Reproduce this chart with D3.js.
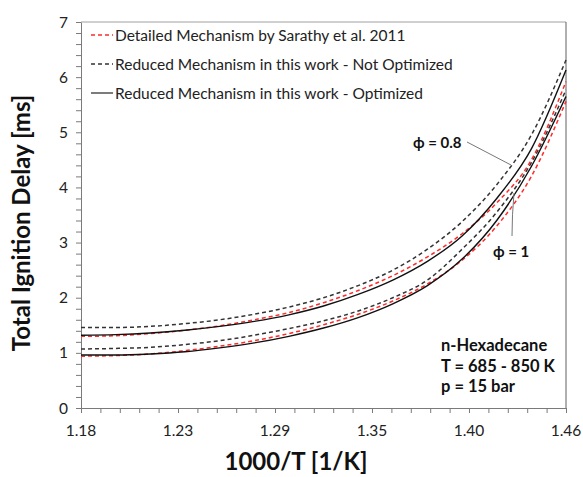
<!DOCTYPE html>
<html>
<head>
<meta charset="utf-8">
<script src="https://cdn.jsdelivr.net/npm/d3@7"></script>
<style>
  body { margin: 0; background: #fff; }
  text { font-family: Lato, "Open Sans", sans-serif; }
</style>
</head>
<body>
<div id="graph"></div>
<script>
// constants for graphing - change these up here
var width = 583,
    height = 477,
    plot_left = 81, plot_right = 566, plot_top = 22, plot_bottom = 408;

// 1000/T sample points
var inv_t = [1.18, 1.20, 1.22, 1.24, 1.26, 1.28, 1.30, 1.32, 1.34, 1.36, 1.38, 1.40, 1.42, 1.44, 1.46];

// phi = 0.8
var detailed_08     = [1.30, 1.31, 1.35, 1.41, 1.49, 1.60, 1.73, 1.91, 2.13, 2.40, 2.74, 3.16, 3.72, 4.50, 5.92];
var not_opt_08      = [1.46, 1.46, 1.48, 1.53, 1.60, 1.70, 1.83, 2.00, 2.22, 2.50, 2.88, 3.38, 4.05, 4.95, 6.31];
var optimized_08    = [1.32, 1.33, 1.36, 1.41, 1.48, 1.57, 1.69, 1.85, 2.06, 2.32, 2.66, 3.12, 3.80, 4.70, 6.13];
// phi = 1
var detailed_1      = [0.94, 0.95, 0.98, 1.04, 1.12, 1.22, 1.35, 1.51, 1.70, 1.94, 2.25, 2.68, 3.30, 4.20, 5.56];
var not_opt_1       = [1.07, 1.08, 1.10, 1.15, 1.22, 1.32, 1.44, 1.58, 1.76, 2.00, 2.32, 2.88, 3.55, 4.45, 5.77];
var optimized_1     = [0.96, 0.96, 0.98, 1.02, 1.09, 1.18, 1.30, 1.45, 1.64, 1.89, 2.22, 2.70, 3.40, 4.38, 5.65];

// axis ticks
var x_ticks = [1.18, 1.236, 1.292, 1.348, 1.404, 1.46];
var x_tick_labels = ["1.18", "1.23", "1.29", "1.35", "1.40", "1.46"];
var y_ticks = [0, 1, 2, 3, 4, 5, 6, 7];

var legend_labels = ["Detailed Mechanism by Sarathy et al. 2011",
                     "Reduced Mechanism in this work - Not Optimized",
                     "Reduced Mechanism in this work - Optimized"];
var info_lines = ["n-Hexadecane", "T = 685 - 850 K", "p = 15 bar"];

var x = d3.scaleLinear().domain([1.18, 1.46]).range([plot_left, plot_right]);
var y = d3.scaleLinear().domain([0, 7]).range([plot_bottom, plot_top]);

var svg = d3.select("#graph")
  .append("svg")
    .attr("width", width)
    .attr("height", height);

// border on top and right
svg.append("line").attr("x1", plot_left).attr("x2", plot_right).attr("y1", plot_top).attr("y2", plot_top)
    .attr("stroke", "#a0a0a0").attr("stroke-width", 1);
svg.append("line").attr("x1", plot_right).attr("x2", plot_right).attr("y1", plot_top).attr("y2", plot_bottom)
    .attr("stroke", "#606060").attr("stroke-width", 1);

// minor ticks (every 0.2 on y, every 1/5 of a major step on x)
var y_minor = d3.range(0, 36).map(function(i) { return i * 0.2; });
var x_minor = d3.range(0, 26).map(function(i) { return 1.18 + i * 0.0112; });

var xaxis = svg.append("g")
    .attr("transform", "translate(0," + plot_bottom + ")")
    .call(d3.axisBottom(x).tickValues(x_minor).tickSize(5).tickSizeOuter(0).tickFormat(""));
var yaxis = svg.append("g")
    .attr("transform", "translate(" + plot_left + ",0)")
    .call(d3.axisLeft(y).tickValues(y_minor).tickSize(5).tickSizeOuter(0).tickFormat(""));
[xaxis, yaxis].forEach(function(a) {
    a.selectAll("path, line").attr("stroke", "#7a7a7a");
});

// tick labels
svg.selectAll("text.xlab")
    .data(x_ticks)
    .enter()
    .append("text")
    .attr("class", "xlab")
    .attr("x", function(d) { return x(d); })
    .attr("y", 436)
    .attr("text-anchor", "middle")
    .attr("font-size", 15.5)
    .attr("fill", "#222")
    .text(function(d, i) { return x_tick_labels[i]; });

svg.selectAll("text.ylab")
    .data(y_ticks)
    .enter()
    .append("text")
    .attr("class", "ylab")
    .attr("x", 68)
    .attr("y", function(d) { return y(d) + 5.5; })
    .attr("text-anchor", "end")
    .attr("font-size", 15.5)
    .attr("fill", "#222")
    .text(function(d) { return d; });

// axis titles
svg.append("text")
    .attr("transform", "translate(30,223) rotate(-90)")
    .attr("text-anchor", "middle")
    .attr("font-size", 24)
    .attr("font-weight", "bold")
    .attr("fill", "#111")
    .text("Total Ignition Delay [ms]");
svg.append("text")
    .attr("x", 296)
    .attr("y", 470)
    .attr("text-anchor", "middle")
    .attr("font-size", 24)
    .attr("font-weight", "bold")
    .attr("fill", "#111")
    .text("1000/T [1/K]");

// the curves
var line = d3.line()
    .x(function(d) { return x(d[0]); })
    .y(function(d) { return y(d[1]); })
    .curve(d3.curveMonotoneX);

var styles = [
    { color: "#ff2a2a", dash: "4,3", w: 1.5 },
    { color: "#333333", dash: "4,3", w: 1.5 },
    { color: "#111111", dash: null,  w: 1.4 }
];
var series = [
    [detailed_1, 0], [not_opt_1, 1], [optimized_1, 2],
    [detailed_08, 0], [not_opt_08, 1], [optimized_08, 2]
];
series.forEach(function(s) {
    var st = styles[s[1]];
    svg.append("path")
        .datum(inv_t.map(function(t, i) { return [t, s[0][i]]; }))
        .attr("d", line)
        .attr("fill", "none")
        .attr("stroke", st.color)
        .attr("stroke-width", st.w)
        .attr("stroke-dasharray", st.dash);
});

// legend
var legend_y = [35, 64, 93];
legend_labels.forEach(function(lab, i) {
    var st = styles[i];
    svg.append("line")
        .attr("x1", 91).attr("x2", 113)
        .attr("y1", legend_y[i]).attr("y2", legend_y[i])
        .attr("stroke", i == 2 ? "#444" : st.color)
        .attr("stroke-width", st.w)
        .attr("stroke-dasharray", st.dash);
    svg.append("text")
        .attr("x", 115)
        .attr("y", legend_y[i] + 5.5)
        .attr("font-size", 15.5)
        .attr("fill", "#222")
        .text(lab);
});

// phi annotations with leader lines
svg.append("path")
    .attr("d", "M467,142 L511,165")
    .attr("stroke", "#777").attr("fill", "none");
svg.append("path")
    .attr("d", "M512,236 Q512,215 514,193")
    .attr("stroke", "#777").attr("fill", "none");
svg.append("text")
    .attr("x", 413).attr("y", 148)
    .attr("font-size", 15).attr("font-weight", "bold").attr("fill", "#111")
    .text("\u03D5 = 0.8");
svg.append("text")
    .attr("x", 493).attr("y", 257)
    .attr("font-size", 15).attr("font-weight", "bold").attr("fill", "#111")
    .text("\u03D5 = 1");

// conditions box text
info_lines.forEach(function(s, i) {
    svg.append("text")
        .attr("x", 441)
        .attr("y", 351 + i * 20.5)
        .attr("font-size", 16.5)
        .attr("font-weight", "bold")
        .attr("fill", "#111")
        .text(s);
});
</script>
</body>
</html>
